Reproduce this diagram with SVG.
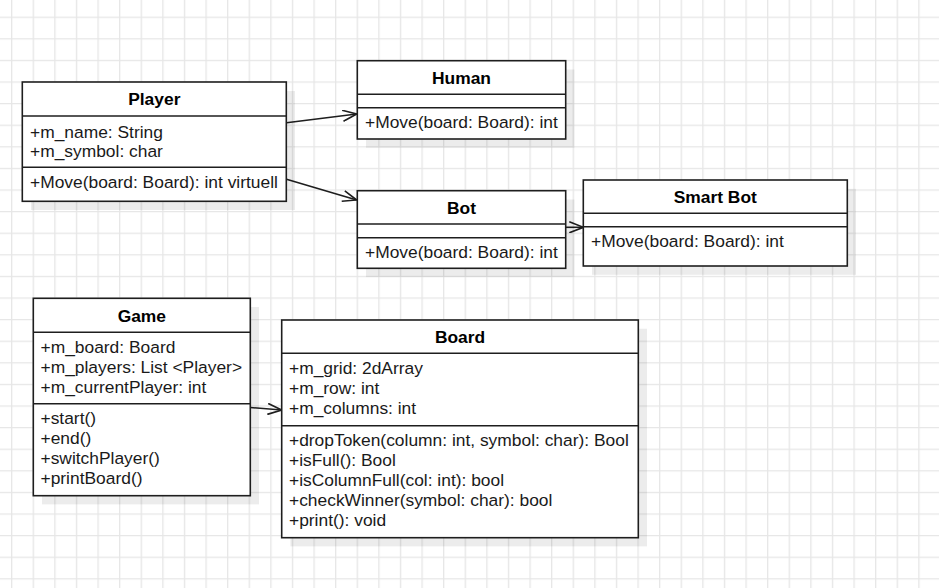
<svg xmlns="http://www.w3.org/2000/svg" width="939" height="588" viewBox="0 0 939 588">
<style>
.box{fill:#ffffff;stroke:#1e1e1e;stroke-width:1.6}
.sh{fill:#000000;fill-opacity:0.075}
.div{stroke:#1e1e1e;stroke-width:1.6}
.t{font-family:"Liberation Sans",Arial,sans-serif;font-size:17.4px;fill:#1a1a1a}
.h{font-family:"Liberation Sans",Arial,sans-serif;font-size:17.4px;font-weight:bold;fill:#000;text-anchor:middle}
.c{fill:none;stroke:#1e1e1e;stroke-width:1.6}
</style>
<defs>
<pattern id="grid" patternUnits="userSpaceOnUse" x="11.05" y="16.65" width="21.6" height="21.6">
<path d="M0.65 0V21.6M0 0.65H21.6" stroke="#e6e6e6" stroke-width="1.3" fill="none"/>
</pattern>
<marker id="open" viewBox="0 0 16 12" refX="15" refY="6" markerWidth="16" markerHeight="12" markerUnits="userSpaceOnUse" orient="auto">
<path d="M1 0.5L15 6L1 11.5" fill="none" stroke="#1e1e1e" stroke-width="1.6"/>
</marker>
</defs>
<rect width="939" height="588" fill="#ffffff"/>
<rect width="939" height="588" fill="url(#grid)"/>

<g id="connectors">
<line class="c" x1="286.5" y1="122.7" x2="356.7" y2="114" marker-end="url(#open)"/>
<line class="c" x1="286.5" y1="179.3" x2="356.7" y2="200" marker-end="url(#open)"/>
<line class="c" x1="565.7" y1="227.3" x2="583.3" y2="227.3" marker-end="url(#open)"/>
<line class="c" x1="250.3" y1="407.5" x2="281.7" y2="410" marker-end="url(#open)"/>
</g>

<g id="player">
<rect class="sh" x="31" y="91" width="264" height="119"/>
<rect class="box" x="22.3" y="82" width="264" height="119.3"/>
<line class="div" x1="22.3" y1="116" x2="286.3" y2="116"/>
<line class="div" x1="22.3" y1="167.3" x2="286.3" y2="167.3"/>
<text class="h" x="154.3" y="105.3">Player</text>
<text class="t" x="30" y="137.7">+m_name: String</text>
<text class="t" x="30" y="157.3">+m_symbol: char</text>
<text class="t" x="30" y="188.3">+Move(board: Board): int virtuell</text>
</g>

<g id="human">
<rect class="sh" x="366" y="69.5" width="208.4" height="78.3"/>
<rect class="box" x="357.3" y="60.7" width="208.4" height="78.3"/>
<line class="div" x1="357.3" y1="94.3" x2="565.7" y2="94.3"/>
<line class="div" x1="357.3" y1="107.7" x2="565.7" y2="107.7"/>
<text class="h" x="461.5" y="84">Human</text>
<text class="t" x="365" y="127.7">+Move(board: Board): int</text>
</g>

<g id="bot">
<rect class="sh" x="366" y="199.5" width="208.4" height="77.6"/>
<rect class="box" x="357.3" y="190.7" width="208.4" height="77.6"/>
<line class="div" x1="357.3" y1="224" x2="565.7" y2="224"/>
<line class="div" x1="357.3" y1="237.7" x2="565.7" y2="237.7"/>
<text class="h" x="461.5" y="213.6">Bot</text>
<text class="t" x="365" y="257.7">+Move(board: Board): int</text>
</g>

<g id="smartbot">
<rect class="sh" x="592" y="188.8" width="264" height="86"/>
<rect class="box" x="583.3" y="180" width="264" height="86"/>
<line class="div" x1="583.3" y1="213.3" x2="847.3" y2="213.3"/>
<line class="div" x1="583.3" y1="226.7" x2="847.3" y2="226.7"/>
<text class="h" x="715.3" y="203">Smart Bot</text>
<text class="t" x="591" y="246.5">+Move(board: Board): int</text>
</g>

<g id="game">
<rect class="sh" x="42" y="307" width="217" height="197.4"/>
<rect class="box" x="33.3" y="298.3" width="217" height="197.4"/>
<line class="div" x1="33.3" y1="332.3" x2="250.3" y2="332.3"/>
<line class="div" x1="33.3" y1="403.7" x2="250.3" y2="403.7"/>
<text class="h" x="141.8" y="321.6">Game</text>
<text class="t" x="40.5" y="353.3">+m_board: Board</text>
<text class="t" x="40.5" y="373.3">+m_players: List &lt;Player&gt;</text>
<text class="t" x="40.5" y="393.3">+m_currentPlayer: int</text>
<text class="t" x="40.5" y="424">+start()</text>
<text class="t" x="40.5" y="444">+end()</text>
<text class="t" x="40.5" y="464">+switchPlayer()</text>
<text class="t" x="40.5" y="484">+printBoard()</text>
</g>

<g id="board">
<rect class="sh" x="290.4" y="328.7" width="356.6" height="217.7"/>
<rect class="box" x="281.7" y="320" width="356.6" height="217.7"/>
<line class="div" x1="281.7" y1="353.3" x2="638.3" y2="353.3"/>
<line class="div" x1="281.7" y1="425.7" x2="638.3" y2="425.7"/>
<text class="h" x="460" y="343">Board</text>
<text class="t" x="289" y="374.3">+m_grid: 2dArray</text>
<text class="t" x="289" y="394.3">+m_row: int</text>
<text class="t" x="289" y="414.3">+m_columns: int</text>
<text class="t" x="289" y="446">+dropToken(column: int, symbol: char): Bool</text>
<text class="t" x="289" y="466">+isFull(): Bool</text>
<text class="t" x="289" y="486">+isColumnFull(col: int): bool</text>
<text class="t" x="289" y="506">+checkWinner(symbol: char): bool</text>
<text class="t" x="289" y="526">+print(): void</text>
</g>
</svg>
